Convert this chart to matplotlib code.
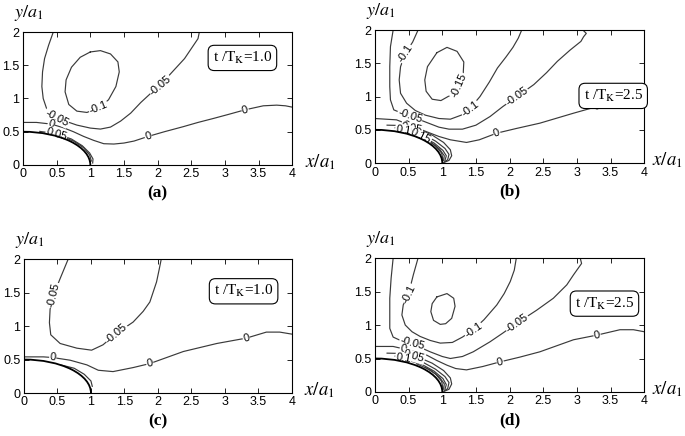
import numpy as np
import matplotlib
matplotlib.use('Agg')
import matplotlib.pyplot as plt
from matplotlib.patches import Arc

plt.rcParams['font.family'] = ['Liberation Sans', 'DejaVu Sans']
plt.rcParams['mathtext.fontset'] = 'stix'

# contour lines, (x/a1, y/a1) points
# panel (a), t/Tk = 1.0
A_M01 = [(1.0, 1.70), (1.15, 1.72), (1.30, 1.67), (1.41, 1.55), (1.43, 1.40), (1.38, 1.18),
         (1.27, 0.98), (1.12, 0.86), (0.95, 0.79), (0.80, 0.81), (0.68, 0.91), (0.625, 1.10),
         (0.64, 1.28), (0.72, 1.47), (0.85, 1.62), (1.0, 1.70)]
A_M005 = [(0.45, 2.0), (0.38, 1.80), (0.32, 1.60), (0.29, 1.40), (0.28, 1.18), (0.30, 1.0),
          (0.35, 0.85), (0.45, 0.75), (0.60, 0.67), (0.80, 0.60), (1.0, 0.555), (1.15, 0.54),
          (1.30, 0.57), (1.45, 0.66), (1.60, 0.78), (1.75, 0.94), (1.90, 1.08), (2.04, 1.20),
          (2.20, 1.38), (2.40, 1.60), (2.52, 1.78), (2.60, 1.90), (2.62, 2.0)]
A_Z0 = [(0, 0.64), (0.2, 0.64), (0.42, 0.615), (0.6, 0.56), (0.75, 0.50), (0.9, 0.43),
        (1.05, 0.37), (1.2, 0.32), (1.35, 0.315), (1.5, 0.33), (1.65, 0.36), (1.86, 0.43),
        (2.1, 0.50), (2.38, 0.576), (2.6, 0.64), (2.83, 0.70), (3.05, 0.76), (3.30, 0.83),
        (3.57, 0.89), (3.77, 0.90), (3.9, 0.89), (4.0, 0.87)]
A_P005 = [(0.25, 0.505), (0.5, 0.47), (0.72, 0.39), (0.88, 0.29), (0.99, 0.18), (1.04, 0.09),
          (1.035, 0.03)]
A_P01 = [(0.55, 0.44), (0.75, 0.36), (0.9, 0.26), (0.99, 0.15), (1.015, 0.06)]
A_LABELS = [("-0.1", 1.12, 0.86), ("-0.05", 2.04, 1.20), ("-0.05", 0.50, 0.71),
            ("0", 0.42, 0.615), ("0.05", 0.50, 0.47), ("0", 1.86, 0.43), ("0", 3.30, 0.83)]

# panel (b), t/Tk = 2.5
B_M015 = [(0.92, 1.66), (1.07, 1.74), (1.22, 1.68), (1.32, 1.52), (1.31, 1.32), (1.24, 1.16),
          (1.12, 1.02), (0.98, 0.94), (0.85, 0.96), (0.76, 1.08), (0.74, 1.25), (0.78, 1.45),
          (0.92, 1.66)]
B_M01 = [(0.64, 2.0), (0.56, 1.82), (0.45, 1.65), (0.38, 1.45), (0.36, 1.25), (0.38, 1.05),
         (0.47, 0.90), (0.60, 0.79), (0.75, 0.72), (0.95, 0.67), (1.12, 0.66), (1.28, 0.72),
         (1.41, 0.82), (1.56, 1.0), (1.70, 1.22), (1.82, 1.43), (1.95, 1.60), (2.05, 1.74),
         (2.13, 1.88), (2.18, 2.0)]
B_M005 = [(0.27, 2.0), (0.23, 1.75), (0.22, 1.45), (0.22, 1.15), (0.23, 0.95), (0.28, 0.80),
          (0.40, 0.75), (0.52, 0.71), (0.77, 0.61), (0.95, 0.54), (1.10, 0.51), (1.30, 0.51),
          (1.50, 0.57), (1.71, 0.70), (1.90, 0.85), (2.11, 1.0), (2.36, 1.18), (2.55, 1.36),
          (2.71, 1.53), (2.90, 1.70), (3.06, 1.83), (3.10, 1.90), (3.14, 1.95), (3.09, 2.0)]
B_Z0 = [(0, 0.67), (0.32, 0.65), (0.50, 0.58), (0.77, 0.47), (0.95, 0.40), (1.12, 0.35),
        (1.36, 0.31), (1.55, 0.35), (1.81, 0.45), (2.1, 0.52), (2.45, 0.60), (2.95, 0.75),
        (3.30, 0.85), (3.59, 0.92), (3.79, 0.95), (4.0, 0.91)]
B_P005 = [(0.18, 0.57), (0.4, 0.565), (0.62, 0.52), (0.85, 0.42), (1.02, 0.31), (1.12, 0.2),
          (1.14, 0.11), (1.10, 0.04), (1.03, 0.01)]
B_P01 = [(0.3, 0.53), (0.5, 0.50), (0.72, 0.43), (0.9, 0.33), (1.04, 0.22), (1.10, 0.13),
         (1.08, 0.05), (1.02, 0.01)]
B_P015 = [(0.5, 0.465), (0.7, 0.40), (0.88, 0.30), (1.01, 0.19), (1.06, 0.11), (1.04, 0.04)]
B_P02 = [(0.62, 0.42), (0.82, 0.32), (0.96, 0.21), (1.03, 0.11), (1.02, 0.04)]
B_P025 = [(0.75, 0.36), (0.9, 0.26), (0.99, 0.15), (1.01, 0.06)]
B_LABELS = [("-0.1", 0.45, 1.65), ("-0.15", 1.24, 1.17), ("-0.1", 1.41, 0.82),
            ("-0.05", 2.11, 1.0), ("-0.05", 0.52, 0.71), ("0", 0.45, 0.57),
            ("0.05", 0.55, 0.52), ("0.1", 0.42, 0.50), ("0.15", 0.68, 0.40),
            ("0", 1.81, 0.45), ("0", 3.30, 0.85)]

# panel (c), t/Tk = 1.0
C_M005 = [(0.66, 2.0), (0.54, 1.71), (0.44, 1.46), (0.39, 1.25), (0.38, 1.05), (0.40, 0.87),
          (0.54, 0.74), (0.79, 0.67), (1.01, 0.64), (1.18, 0.72), (1.38, 0.89), (1.63, 1.06),
          (1.78, 1.22), (1.88, 1.36), (1.98, 1.66), (2.02, 1.85), (2.05, 2.0)]
C_Z0 = [(0, 0.54), (0.29, 0.54), (0.43, 0.53), (0.69, 0.49), (0.94, 0.42), (1.11, 0.34),
        (1.33, 0.32), (1.63, 0.38), (1.88, 0.44), (2.38, 0.62), (2.88, 0.74), (3.32, 0.82),
        (3.62, 0.91), (3.82, 0.91), (4.0, 0.88)]
C_IN = [(0.55, 0.42), (0.75, 0.37), (0.9, 0.28), (1.0, 0.18), (1.02, 0.10)]
C_LABELS = [("-0.05", 0.44, 1.46), ("-0.05", 1.38, 0.89), ("0", 0.43, 0.53),
            ("0", 1.88, 0.44), ("0", 3.32, 0.82)]

# panel (d), t/Tk = 2.5
D_M015 = [(0.92, 1.42), (1.07, 1.47), (1.17, 1.40), (1.19, 1.28), (1.14, 1.10), (1.05, 1.02),
          (0.97, 1.01), (0.87, 1.07), (0.83, 1.20), (0.85, 1.32), (0.92, 1.42)]
D_M01 = [(0.64, 2.0), (0.57, 1.75), (0.50, 1.47), (0.42, 1.30), (0.40, 1.15), (0.45, 1.0),
         (0.55, 0.90), (0.67, 0.83), (0.82, 0.77), (0.97, 0.73), (1.15, 0.74), (1.30, 0.82),
         (1.46, 0.93), (1.62, 1.08), (1.81, 1.30), (1.92, 1.47), (2.01, 1.65), (2.07, 1.82),
         (2.10, 2.0)]
D_M005 = [(0.27, 2.0), (0.24, 1.70), (0.22, 1.40), (0.22, 1.15), (0.22, 0.95), (0.27, 0.82),
          (0.40, 0.76), (0.55, 0.72), (0.82, 0.60), (1.0, 0.53), (1.12, 0.50), (1.30, 0.53),
          (1.46, 0.60), (1.71, 0.75), (1.90, 0.88), (2.11, 1.03), (2.40, 1.22), (2.65, 1.40),
          (2.85, 1.60), (2.95, 1.75), (3.07, 1.92), (3.05, 2.0)]
D_Z0 = [(0, 0.68), (0.27, 0.68), (0.42, 0.645), (0.6, 0.60), (0.77, 0.55), (0.92, 0.47),
        (1.07, 0.40), (1.2, 0.35), (1.36, 0.33), (1.6, 0.38), (1.86, 0.45), (2.15, 0.52),
        (2.45, 0.60), (2.95, 0.78), (3.30, 0.85), (3.64, 0.93), (3.84, 0.93), (4.0, 0.90)]
D_P005 = [(0.18, 0.58), (0.4, 0.575), (0.62, 0.53), (0.85, 0.43), (1.02, 0.32), (1.12, 0.21),
          (1.14, 0.12), (1.10, 0.04), (1.03, 0.01)]
D_P01 = [(0.3, 0.535), (0.5, 0.505), (0.72, 0.44), (0.9, 0.34), (1.04, 0.23), (1.10, 0.14),
         (1.08, 0.05), (1.02, 0.01)]
D_P015 = [(0.5, 0.47), (0.7, 0.41), (0.88, 0.31), (1.01, 0.20), (1.06, 0.11), (1.04, 0.04)]
D_P02 = [(0.62, 0.42), (0.82, 0.33), (0.96, 0.22), (1.03, 0.12), (1.02, 0.04)]
D_P025 = [(0.75, 0.365), (0.9, 0.27), (0.99, 0.16), (1.01, 0.06)]
D_LABELS = [("-0.1", 0.50, 1.47), ("-0.1", 1.46, 0.93), ("-0.05", 2.11, 1.03),
            ("-0.05", 0.55, 0.72), ("0", 0.42, 0.645), ("0.05", 0.58, 0.53),
            ("0.1", 0.42, 0.50), ("0", 1.86, 0.45), ("0", 3.30, 0.85)]

TIMES = ["1.0", "2.5", "1.0", "2.5"]
LETTERS = ["(a)", "(b)", "(c)", "(d)"]
XTICKS = [0, 0.5, 1, 1.5, 2, 2.5, 3, 3.5, 4]
YTICKS = [0, 0.5, 1, 1.5, 2]

panels = [
    dict(lines=[A_M01, A_M005, A_Z0, A_P005, A_P01], labels=A_LABELS,
         rect=[0.0336, 0.6216, 0.393, 0.305], box=(3.26, 1.61), xlab=1.104),
    dict(lines=[B_M015, B_M01, B_M005, B_Z0, B_P005, B_P01, B_P015, B_P02, B_P025],
         labels=B_LABELS, rect=[0.5474, 0.626, 0.393, 0.305], box=(3.54, 1.01), xlab=1.085),
    dict(lines=[C_M005, C_Z0, C_IN], labels=C_LABELS,
         rect=[0.035, 0.0986, 0.391, 0.307], box=(3.28, 1.52), xlab=1.104),
    dict(lines=[D_M015, D_M01, D_M005, D_Z0, D_P005, D_P01, D_P015, D_P02, D_P025],
         labels=D_LABELS, rect=[0.5474, 0.101, 0.393, 0.307], box=(3.41, 1.32), xlab=1.085),
]


def label_angle(ax, lines, x, y):
    # direction of the nearest line segment, in screen space
    q = ax.transData.transform((x, y))
    best = None
    for pts in lines:
        P = ax.transData.transform(np.array(pts))
        mid = (P[1:] + P[:-1]) / 2
        d = np.hypot(*(mid - q).T)
        i = int(np.argmin(d))
        if best is None or d[i] < best[0]:
            best = (d[i], P[i + 1] - P[i])
    ang = np.degrees(np.arctan2(best[1][1], best[1][0]))
    if ang > 90:
        ang -= 180
    if ang < -90:
        ang += 180
    return ang


fig = plt.figure(figsize=(6.85, 4.36), dpi=100)

for k, p in enumerate(panels):
    ax = fig.add_axes(p['rect'])
    ax.set_xlim(0, 4)
    ax.set_ylim(0, 2)
    ax.set_xticks(XTICKS)
    ax.set_xticklabels(['0', '0.5', '1', '1.5', '2', '2.5', '3', '3.5', '4'])
    ax.set_yticks(YTICKS)
    ax.set_yticklabels(['0', '0.5', '1', '1.5', '2'])
    ax.tick_params(direction='in', top=True, right=True, length=3.5, width=0.6,
                   labelsize=9, pad=2.5)
    for s in ax.spines.values():
        s.set_linewidth(0.8)

    for pts in p['lines']:
        xy = np.array(pts)
        ax.plot(xy[:, 0], xy[:, 1], color='#3a3a3a', lw=0.85, zorder=2)
    # inclusion boundary
    ax.add_patch(Arc((0, 0), 2, 1, theta1=0, theta2=90, color='black', lw=1.3, zorder=4))

    for s, x, y in p['labels']:
        ang = label_angle(ax, p['lines'], x, y)
        ax.text(x, y, s, fontsize=8, rotation=ang, rotation_mode='anchor',
                ha='center', va='center', zorder=3,
                bbox=dict(boxstyle='square,pad=0.05', fc='white', ec='none'))

    bx, by = p['box']
    ax.text(bx, by, 't /T$_\\mathrm{K}$=' + TIMES[k], fontsize=11, family='Liberation Serif',
            ha='center', va='center', zorder=5,
            bbox=dict(boxstyle='round,pad=0.3,rounding_size=0.4', fc='white', ec='black', lw=0.8))

    ax.text(0.022, 1.14, r'$y/a_{1}$', transform=ax.transAxes, fontsize=13,
            ha='center', va='center')
    ax.text(p['xlab'], 0.02, r'$x/a_{1}$', transform=ax.transAxes, fontsize=13.5,
            ha='center', va='center')
    ax.text(0.5, -0.21, LETTERS[k], transform=ax.transAxes, fontsize=12.5,
            family='Liberation Serif', weight='bold', ha='center', va='center')

fig.savefig('out.png', dpi=100)
